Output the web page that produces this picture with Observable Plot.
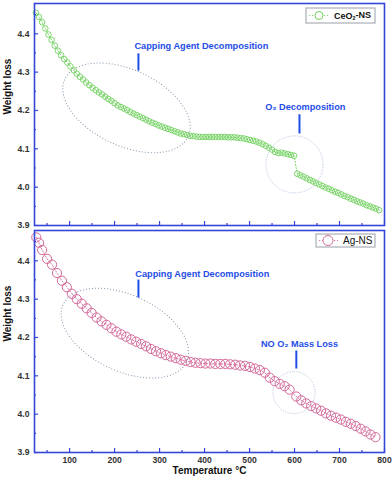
<!DOCTYPE html>
<html><head><meta charset="utf-8">
<script src="https://cdn.jsdelivr.net/npm/d3@7"></script>
<script src="https://cdn.jsdelivr.net/npm/@observablehq/plot@0.6"></script>
<style>
body{margin:0;background:#fff;}
#chart svg{display:block;}
</style>
</head><body><div id="chart"></div>
<script>
// ---- data ----
const ceTemp = [25,32,39,46,53,60,67,74,81,88,95,102,109,116,123,130,137,144,151,158,165,172,179,186,193,200,207,214,221,228,235,242,249,256,263,270,277,284,291,298,305,312,319,326,333,340,347,354,361,368,375,382,389,396,403,410,417,424,431,438,445,452,459,466,473,480,487,494,501,508,515,522,529,536,543,550,557,564,571,578,585,592,599,606,613,620,627,634,641,648,655,662,669,676,683,690,697,704,711,718,725,732,739,746,753,760,767,774,781,788];
const ceWeight = [4.455,4.444,4.430,4.414,4.398,4.384,4.369,4.356,4.344,4.334,4.325,4.315,4.305,4.296,4.288,4.281,4.273,4.266,4.259,4.253,4.247,4.242,4.236,4.230,4.225,4.219,4.213,4.209,4.205,4.201,4.196,4.192,4.188,4.184,4.180,4.176,4.172,4.168,4.165,4.161,4.158,4.155,4.152,4.149,4.146,4.143,4.140,4.138,4.136,4.134,4.133,4.132,4.131,4.131,4.131,4.131,4.131,4.131,4.131,4.131,4.131,4.130,4.130,4.130,4.129,4.128,4.127,4.125,4.123,4.121,4.119,4.116,4.112,4.108,4.103,4.098,4.092,4.089,4.090,4.088,4.086,4.084,4.082,4.035,4.031,4.027,4.023,4.019,4.015,4.011,4.007,4.003,3.999,3.996,3.992,3.988,3.985,3.981,3.977,3.974,3.970,3.967,3.963,3.960,3.957,3.953,3.950,3.947,3.944,3.940];

const agTemp = [26,32,39,50,61,72,83,94,105,116,127,138,149,160,171,182,193,204,215,226,237,248,259,270,281,292,303,314,325,336,347,358,369,380,391,402,413,424,435,446,457,468,479,490,501,512,523,534,545,556,567,578,589,604,615,626,637,648,659,670,681,692,703,714,725,736,747,758,769,780];
const agWeight = [4.461,4.447,4.428,4.405,4.390,4.368,4.348,4.331,4.314,4.300,4.288,4.276,4.264,4.252,4.242,4.233,4.224,4.215,4.208,4.202,4.195,4.189,4.183,4.177,4.170,4.164,4.159,4.154,4.150,4.146,4.142,4.139,4.136,4.134,4.133,4.132,4.132,4.131,4.131,4.131,4.130,4.129,4.127,4.126,4.123,4.119,4.115,4.108,4.095,4.086,4.079,4.073,4.064,4.046,4.036,4.028,4.021,4.015,4.009,4.002,3.996,3.991,3.986,3.980,3.975,3.969,3.962,3.955,3.947,3.940];

const xTicks = [100,200,300,400,500,600,700,800];
const xMinor = [50,150,250,350,450,550,650,750];
const yTicks = [3.9,4.0,4.1,4.2,4.3,4.4];
const yMinor = [3.95,4.05,4.15,4.25,4.35,4.45];

const topNoteText = ["Capping Agent Decomposition", "O\u2082 Decomposition"];
const topNoteT = [393, 624];
const topNoteW = [4.367, 4.208];
const topPinT = [253, 611];
const topPinW1 = [4.349, 4.190];
const topPinW2 = [4.304, 4.140];

const botNoteText = ["Capping Agent Decomposition", "NO O\u2082 Mass Loss"];
const botNoteT = [395, 611];
const botNoteW = [4.366, 4.184];
const botPinT = [253, 604];
const botPinW1 = [4.351, 4.166];
const botPinW2 = [4.304, 4.119];

// ---- styles ----
const AXIS = "#3447d8";
const NOTE = "#1f4ee6";
const FONT = "'Liberation Sans', Arial, sans-serif";

function panel(o) {
  const data = o.temps.map((t, i) => ({t, w: o.weights[i]}));
  const notes = o.noteText.map((s, i) => ({s, t: o.noteT[i], w: o.noteW[i]}));
  const pins = o.pinT.map((t, i) => ({t, w1: o.pinW1[i], w2: o.pinW2[i]}));
  const tickOpts = {label: null, tickFormat: () => "", stroke: AXIS, strokeWidth: 1.2};
  const marks = [
    Plot.line(data, {x: "t", y: "w", stroke: o.color, strokeWidth: 0.9, strokeDasharray: "1.2,1.8"}),
    Plot.dot(data, {x: "t", y: "w", r: o.r, stroke: o.color, strokeWidth: o.sw, fill: "none"}),
    Plot.text(notes, {x: "t", y: "w", text: "s", fill: NOTE, fontWeight: "bold", fontSize: 9.2}),
    Plot.link(pins, {x1: "t", x2: "t", y1: "w1", y2: "w2", stroke: NOTE, strokeWidth: 2}),
    Plot.axisY(yTicks, {...tickOpts, tickSize: -4}),
    Plot.axisY(yMinor, {...tickOpts, tickSize: -2}),
    Plot.axisY(yTicks, {label: null, tickSize: 0, tickPadding: 5, tickFormat: d3.format(".1f"), fill: "#333", fontWeight: "bold", fontSize: 8.6}),
    Plot.axisX(xTicks, {...tickOpts, tickSize: -4}),
    Plot.axisX(xMinor, {...tickOpts, tickSize: -2}),
    Plot.text(["Weight loss"], {text: d => d, frameAnchor: "left", rotate: -90, dx: -27, fill: "#111", fontWeight: "bold", fontSize: 10}),
    Plot.frame({stroke: AXIS, strokeWidth: 1.6})
  ];
  if (o.xLabels) {
    marks.push(Plot.axisX(xTicks, {label: null, tickSize: 0, tickPadding: 4, fill: "#333", fontWeight: "bold", fontSize: 8.6}));
    marks.push(Plot.text(["Temperature \u00B0C"], {text: d => d, frameAnchor: "bottom", dy: 21.5, fill: "#111", fontWeight: "bold", fontSize: 10}));
  }
  const chart = Plot.plot({
    width: 392, height: o.height,
    marginLeft: 34, marginRight: 8, marginTop: o.mt, marginBottom: o.mb,
    style: {fontFamily: FONT, background: "white", overflow: "visible"},
    x: {domain: [22, 800], axis: null},
    y: {domain: [3.9, 4.479], axis: null},
    marks
  });
  const x = chart.scale("x"), y = chart.scale("y");
  const svg = d3.select(chart);
  const cx = x.apply(o.ell[0]), cy = y.apply(o.ell[1]);
  svg.append("ellipse").attr("cx", cx).attr("cy", cy).attr("rx", o.ell[2]).attr("ry", o.ell[3])
    .attr("transform", `rotate(${o.ell[4]} ${cx} ${cy})`)
    .attr("fill", "none").attr("stroke", "#8597ab").attr("stroke-width", 1).attr("stroke-dasharray", "1,2");
  svg.append("circle").attr("cx", x.apply(o.circ[0])).attr("cy", y.apply(o.circ[1])).attr("r", o.circ[2])
    .attr("fill", "none").attr("stroke", "#bccbe3").attr("stroke-width", 1).attr("stroke-dasharray", "1.2,1.2");
  const right = x.range[1], topEdge = y.range[1];
  const L = o.legend;
  const g = svg.append("g").attr("transform", `translate(${right - L.right - L.w},${topEdge + L.top})`);
  g.append("rect").attr("width", L.w).attr("height", L.h).attr("fill", "white").attr("stroke", "#a9b0b8").attr("stroke-width", 1.2);
  g.append("line").attr("x1", 3).attr("x2", L.cx * 2 - 2).attr("y1", L.h / 2).attr("y2", L.h / 2)
    .attr("stroke", o.color).attr("stroke-width", 0.9).attr("stroke-dasharray", "1.2,1.8");
  g.append("circle").attr("cx", L.cx).attr("cy", L.h / 2).attr("r", L.r).attr("fill", "white").attr("stroke", o.color).attr("stroke-width", 1);
  const t = g.append("text").attr("x", L.tx).attr("y", L.h / 2).attr("dy", "0.35em").attr("text-anchor", "start")
    .attr("font-family", FONT).attr("font-size", L.fs).attr("font-weight", L.bold ? "bold" : "normal").attr("fill", "#111");
  L.parts.forEach(p => {
    const ts = t.append("tspan").text(p[0]);
    if (p[1]) ts.attr("font-size", L.fs * 0.6).attr("dy", "0.3em");
    else if (p[2]) ts.attr("dy", "-0.3em");
  });
  return chart;
}

const topChart = panel({
  temps: ceTemp, weights: ceWeight, color: "#6fd05e", r: 2.8, sw: 0.9,
  height: 229, mt: 3, mb: 4, xLabels: false,
  noteText: topNoteText, noteT: topNoteT, noteW: topNoteW,
  pinT: topPinT, pinW1: topPinW1, pinW2: topPinW2,
  ell: [227.6, 4.2055, 68, 38, 25], circ: [601, 4.058, 28.5],
  legend: {w: 69, h: 15, right: 9, top: 5, r: 4, cx: 13, tx: 28, fs: 9, bold: true, parts: [["CeO"], ["2", true], ["-NS", false, true]]}
});
const bottomChart = panel({
  temps: agTemp, weights: agWeight, color: "#d4699a", r: 4.6, sw: 1,
  height: 250, mt: 1, mb: 27, xLabels: true,
  noteText: botNoteText, noteT: botNoteT, noteW: botNoteW,
  pinT: botPinT, pinW1: botPinW1, pinW2: botPinW2,
  ell: [224, 4.21, 68, 38, 25], circ: [600, 4.055, 21],
  legend: {w: 59, h: 13, right: 9, top: 4, r: 5, cx: 12, tx: 27, fs: 10, bold: false, parts: [["Ag-NS"]]}
});
document.getElementById("chart").append(topChart, bottomChart);
</script>
</body></html>
